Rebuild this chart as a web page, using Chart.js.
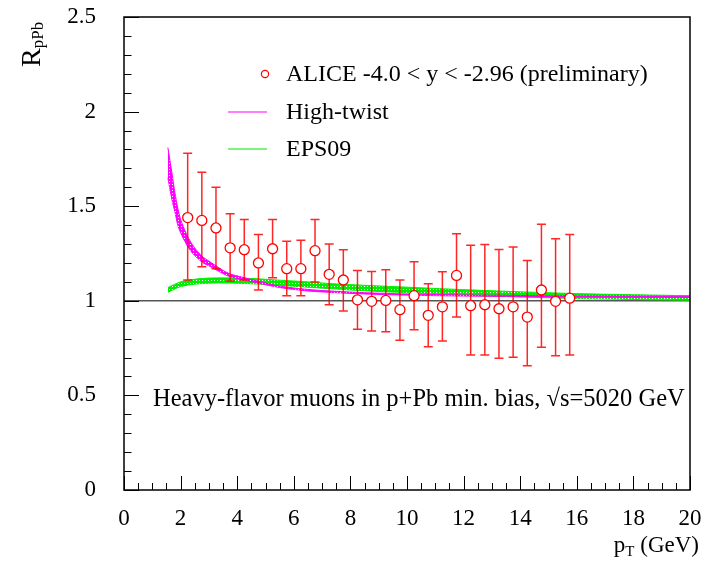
<!DOCTYPE html>
<html>
<head>
<meta charset="utf-8">
<script src="https://cdn.jsdelivr.net/npm/chart.js@4.4.1/dist/chart.umd.min.js"></script>
<style>
  html, body { margin: 0; padding: 0; background: #fff; }
  #grafico { display: block; }
</style>
</head>
<body>
<canvas id="grafico" width="714" height="572"></canvas>
<script>
// ALICE points (pT bin centres, R_pPb, lower / upper end of the error bar)
const aliceX = [2.25, 2.75, 3.25, 3.75, 4.25, 4.75, 5.25, 5.75, 6.25, 6.75, 7.25, 7.75,
                8.25, 8.75, 9.25, 9.75, 10.25, 10.75, 11.25, 11.75, 12.25, 12.75, 13.25, 13.75,
                14.25, 14.75, 15.25, 15.75];
const aliceR = [1.44, 1.425, 1.385, 1.28, 1.27, 1.20, 1.275, 1.17, 1.17, 1.265, 1.14, 1.11,
                1.005, 0.997, 1.002, 0.953, 1.027, 0.923, 0.968, 1.134, 0.974, 0.979, 0.958, 0.968,
                0.914, 1.057, 0.997, 1.014];
const aliceHi = [1.78, 1.68, 1.60, 1.46, 1.43, 1.35, 1.43, 1.315, 1.32, 1.43, 1.30, 1.27,
                 1.16, 1.155, 1.164, 1.11, 1.206, 1.09, 1.153, 1.354, 1.293, 1.298, 1.271, 1.284,
                 1.213, 1.404, 1.328, 1.351];
const aliceLo = [1.11, 1.18, 1.17, 1.105, 1.11, 1.057, 1.122, 1.027, 1.027, 1.10, 0.979, 0.946,
                 0.85, 0.84, 0.836, 0.792, 0.847, 0.757, 0.787, 0.914, 0.713, 0.713, 0.696, 0.701,
                 0.657, 0.755, 0.71, 0.713];

// High-twist band
const htX  = [1.55, 1.7, 1.8, 1.9, 2.0, 2.2, 2.4, 2.6, 2.8, 3.0, 3.3, 3.7, 4.2, 4.7,
              5.5, 6.5, 7.5, 8.5, 10, 12, 14, 16, 18, 20];
const htLo = [1.65, 1.53, 1.47, 1.40, 1.36, 1.30, 1.255, 1.225, 1.20, 1.185, 1.16, 1.13, 1.112, 1.095,
              1.07, 1.052, 1.043, 1.036, 1.03, 1.025, 1.022, 1.02, 1.019, 1.018];
const htHi = [1.81, 1.67, 1.57, 1.49, 1.43, 1.355, 1.30, 1.26, 1.23, 1.21, 1.18, 1.145, 1.124, 1.105,
              1.078, 1.06, 1.05, 1.043, 1.036, 1.031, 1.028, 1.026, 1.025, 1.024];

// EPS09 band
const epsX  = [1.55, 2.0, 2.5, 3.0, 3.6, 4.5, 5.5, 6.5, 7.2, 8.5, 10, 11.5, 13, 14.5, 16, 18, 20];
const epsLo = [1.045, 1.075, 1.088, 1.093, 1.094, 1.09, 1.082, 1.072, 1.065, 1.053, 1.043, 1.033,
               1.025, 1.018, 1.012, 1.007, 1.003];
const epsHi = [1.07, 1.10, 1.114, 1.12, 1.121, 1.118, 1.109, 1.10, 1.092, 1.082, 1.072, 1.062,
               1.053, 1.045, 1.038, 1.032, 1.027];

// eixos
const xTicks = [0, 2, 4, 6, 8, 10, 12, 14, 16, 18, 20];
const yTicks = [0, 0.5, 1, 1.5, 2, 2.5];

const serif = '"Liberation Serif", "Times New Roman", serif';

function pares(xs, ys) {
    return xs.map((x, i) => ({ x: x, y: ys[i] }));
}

// preenchimento pontilhado tipo ROOT
function padrao(cor) {
    const c = document.createElement('canvas');
    c.width = 3; c.height = 3;
    const g = c.getContext('2d');
    g.fillStyle = cor;
    g.fillRect(0, 0, 3, 3);
    g.fillStyle = '#ffffff';
    g.fillRect(1, 1, 1, 1);
    return g.createPattern(c, 'repeat');
}

// barras de erro, desenhadas antes dos círculos
const barrasErro = {
    id: 'barrasErro',
    beforeDatasetDraw(chart, args) {
        if (args.index !== 0) return;
        const ctx = chart.ctx;
        const xs = chart.scales.x, ys = chart.scales.y;
        ctx.save();
        ctx.strokeStyle = 'rgba(255,0,0,0.85)';
        ctx.lineWidth = 1.5;
        aliceX.forEach((x, i) => {
            const px = xs.getPixelForValue(x);
            const top = ys.getPixelForValue(aliceHi[i]);
            const bot = ys.getPixelForValue(aliceLo[i]);
            ctx.beginPath();
            ctx.moveTo(px, top); ctx.lineTo(px, bot);
            ctx.moveTo(px - 4.5, top); ctx.lineTo(px + 4.5, top);
            ctx.moveTo(px - 4.5, bot); ctx.lineTo(px + 4.5, bot);
            ctx.stroke();
        });
        ctx.restore();
    }
};

// moldura, marcas dos eixos, títulos, legenda e anotação
const moldura = {
    id: 'moldura',
    afterDraw(chart) {
        const ctx = chart.ctx;
        const a = chart.chartArea;
        const xs = chart.scales.x, ys = chart.scales.y;
        ctx.save();
        ctx.strokeStyle = '#000';
        ctx.lineWidth = 1.5;
        ctx.strokeRect(a.left, a.top, a.right - a.left, a.bottom - a.top);

        ctx.lineWidth = 1;
        ctx.beginPath();
        for (let v = 0; v <= 20.001; v += 0.5) {
            const px = Math.round(xs.getPixelForValue(v)) + 0.5;
            const len = Math.abs(v % 2) < 0.001 ? 14 : 7;
            ctx.moveTo(px, a.bottom); ctx.lineTo(px, a.bottom - len);
        }
        for (let k = 0; k <= 25; k++) {
            const v = k / 10;
            const py = Math.round(ys.getPixelForValue(v)) + 0.5;
            const len = k % 5 === 0 ? 15 : 7.5;
            ctx.moveTo(a.left, py); ctx.lineTo(a.left + len, py);
        }
        ctx.stroke();

        ctx.fillStyle = '#000';
        ctx.textBaseline = 'alphabetic';

        // título do eixo y: R_pPb
        ctx.save();
        ctx.translate(40, 67);
        ctx.rotate(-Math.PI / 2);
        ctx.font = '28px ' + serif;
        ctx.textAlign = 'left';
        ctx.fillText('R', 0, 0);
        const wR = ctx.measureText('R').width;
        ctx.font = '17px ' + serif;
        ctx.fillText('pPb', wR, 3);
        ctx.restore();

        // título do eixo x: p_T (GeV)
        ctx.textAlign = 'left';
        ctx.font = '23px ' + serif;
        const wP = ctx.measureText('p').width;
        const wG = ctx.measureText(' (GeV)').width;
        ctx.font = '15px ' + serif;
        const wT = ctx.measureText('T').width;
        let x0 = 699 - (wP + wT + wG);
        ctx.font = '23px ' + serif;
        ctx.fillText('p', x0, 552);
        ctx.font = '15px ' + serif;
        ctx.fillText('T', x0 + wP, 556);
        ctx.font = '23px ' + serif;
        ctx.fillText(' (GeV)', x0 + wP + wT, 552);

        // legenda
        ctx.font = '24px ' + serif;
        ctx.textBaseline = 'middle';
        ctx.strokeStyle = '#ff0000';
        ctx.lineWidth = 1.2;
        ctx.beginPath();
        ctx.arc(265, 74, 3.6, 0, Math.PI * 2);
        ctx.stroke();
        ctx.fillText('ALICE -4.0 < y < -2.96 (preliminary)', 286, 75);

        ctx.strokeStyle = '#ff55ff';
        ctx.lineWidth = 1.5;
        ctx.beginPath();
        ctx.moveTo(228, 112); ctx.lineTo(267, 112);
        ctx.stroke();
        ctx.fillText('High-twist', 286, 113);

        ctx.strokeStyle = '#55ee55';
        ctx.beginPath();
        ctx.moveTo(228, 149); ctx.lineTo(267, 149);
        ctx.stroke();
        ctx.fillText('EPS09', 286, 150);

        // anotação
        ctx.textBaseline = 'alphabetic';
        ctx.font = '24.5px ' + serif;
        ctx.fillText('Heavy-flavor muons in p+Pb min. bias, \u221As=5020 GeV', 153, 406);
        ctx.restore();
    }
};

const ctx = document.getElementById('grafico').getContext('2d');
window.grafico = new Chart(ctx, {
    type: 'scatter',
    data: {
        datasets: [
            {
                label: 'ALICE -4.0 < y < -2.96 (preliminary)',
                data: pares(aliceX, aliceR),
                showLine: false,
                pointRadius: 5,
                pointBorderWidth: 1.3,
                pointBorderColor: '#ff0000',
                pointBackgroundColor: '#ffffff'
            },
            {
                label: 'High-twist',
                type: 'line',
                data: pares(htX, htHi),
                borderColor: '#ff00ff',
                borderWidth: 1,
                backgroundColor: padrao('#ff00ff'),
                pointRadius: 0,
                tension: 0.3,
                fill: '+1'
            },
            {
                label: 'High-twist low',
                type: 'line',
                data: pares(htX, htLo),
                borderColor: '#ff00ff',
                borderWidth: 1,
                pointRadius: 0,
                tension: 0.3,
                fill: false
            },
            {
                label: 'EPS09',
                type: 'line',
                data: pares(epsX, epsHi),
                borderColor: '#00ee00',
                borderWidth: 1,
                backgroundColor: padrao('#00ee00'),
                pointRadius: 0,
                tension: 0.3,
                fill: '+1'
            },
            {
                label: 'EPS09 low',
                type: 'line',
                data: pares(epsX, epsLo),
                borderColor: '#00ee00',
                borderWidth: 1,
                pointRadius: 0,
                tension: 0.3,
                fill: false
            },
            {
                label: 'unity',
                type: 'line',
                data: [{ x: 0, y: 1 }, { x: 20, y: 1 }],
                borderColor: '#555555',
                borderWidth: 1.5,
                pointRadius: 0,
                fill: false
            }
        ]
    },
    options: {
        responsive: false,
        animation: false,
        devicePixelRatio: 1,
        layout: { padding: { top: 17, right: 24, left: 0, bottom: 0 } },
        plugins: {
            legend: { display: false },
            tooltip: { enabled: false }
        },
        scales: {
            x: {
                type: 'linear',
                min: 0,
                max: 20,
                afterBuildTicks: s => { s.ticks = xTicks.map(v => ({ value: v })); },
                afterFit: s => { s.height = 82; s.paddingLeft = 0; s.paddingRight = 0; },
                ticks: { font: { family: serif, size: 23 }, color: '#000', padding: 15, maxRotation: 0 },
                grid: { display: false, drawTicks: false },
                border: { display: false }
            },
            y: {
                type: 'linear',
                min: 0,
                max: 2.5,
                afterBuildTicks: s => { s.ticks = yTicks.map(v => ({ value: v })); },
                afterFit: s => { s.width = 124; s.paddingTop = 0; s.paddingBottom = 0; },
                ticks: {
                    font: { family: serif, size: 23 },
                    color: '#000',
                    padding: 28,
                    callback: v => String(v)
                },
                grid: { display: false, drawTicks: false },
                border: { display: false }
            }
        }
    },
    plugins: [barrasErro, moldura]
});
</script>
</body>
</html>
